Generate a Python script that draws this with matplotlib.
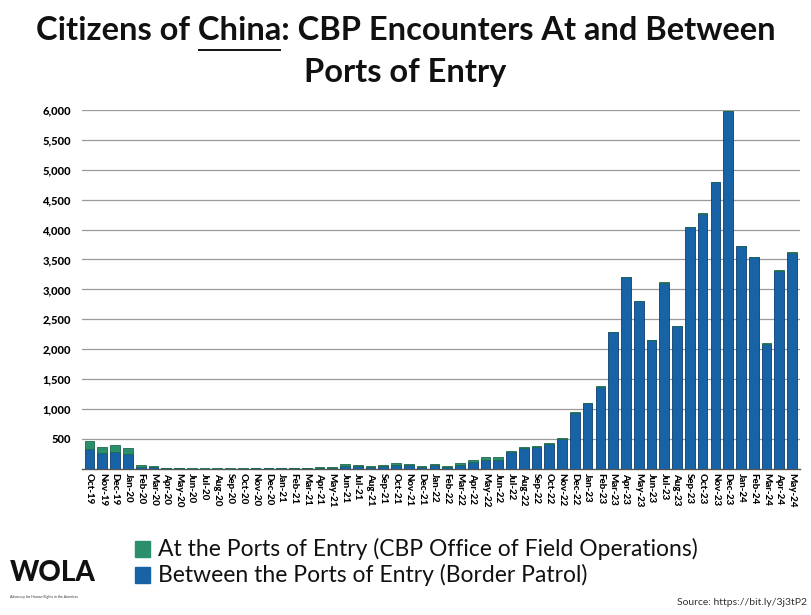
import matplotlib
matplotlib.use("Agg")
from matplotlib import pyplot as plt
import numpy as np

plt.rcParams['font.family'] = ['Lato', 'DejaVu Sans']

months = ["Oct-19","Nov-19","Dec-19","Jan-20","Feb-20","Mar-20","Apr-20","May-20","Jun-20","Jul-20","Aug-20","Sep-20",
          "Oct-20","Nov-20","Dec-20","Jan-21","Feb-21","Mar-21","Apr-21","May-21","Jun-21","Jul-21","Aug-21","Sep-21",
          "Oct-21","Nov-21","Dec-21","Jan-22","Feb-22","Mar-22","Apr-22","May-22","Jun-22","Jul-22","Aug-22","Sep-22",
          "Oct-22","Nov-22","Dec-22","Jan-23","Feb-23","Mar-23","Apr-23","May-23","Jun-23","Jul-23","Aug-23","Sep-23",
          "Oct-23","Nov-23","Dec-23","Jan-24","Feb-24","Mar-24","Apr-24","May-24"]

# at the ports of entry (OFO)
ofo = [140,110,120,100,30,25,5,8,3,2,2,3,
       3,5,6,8,6,6,10,15,25,20,15,20,
       30,25,20,25,15,30,40,60,50,30,20,15,
       15,10,10,10,10,10,10,10,10,10,10,10,
       10,10,10,10,10,10,10,10]

# between the ports of entry (Border Patrol)
usbp = [330,260,280,250,25,25,5,7,2,1,1,2,
        2,3,4,7,4,4,10,15,45,45,25,40,
        60,55,30,55,35,65,110,140,150,270,347,368,
        407,500,930,1090,1370,2280,3200,2800,2150,3110,2380,4040,
        4260,4790,5980,3720,3535,2085,3310,3610]

green = "#2a8f6a"
blue = "#1763a6"

fig = plt.figure(figsize=(8.11, 6.15), dpi=100)
ax = fig.add_axes([0.101, 0.238, 0.885, 0.583])

x = np.arange(len(months))
ax.bar(x, usbp, width=0.76, color=blue, edgecolor="#0d3f6e", linewidth=0.6, zorder=3)
ax.bar(x, ofo, bottom=usbp, width=0.76, color=green, edgecolor="#1d6a4c", linewidth=0.6, zorder=3)

ax.set_ylim(0, 6000)
ax.set_xlim(-0.6, len(months) - 0.4)
ax.set_yticks(np.arange(500, 6001, 500))
ax.set_yticklabels(["{:,}".format(v) for v in range(500, 6001, 500)], fontsize=8, fontweight="black")
ax.set_xticks(x)
ax.set_xticklabels(months, rotation=270, fontsize=7, fontweight="black", va="top", ha="center")
ax.tick_params(axis="both", length=0, pad=3)
ax.tick_params(axis="y", pad=8)
ax.grid(axis="y", color="#9a9a9a", linewidth=0.9, zorder=0)
for s in ["top", "right", "left"]:
    ax.spines[s].set_visible(False)
ax.spines["bottom"].set_color("#555555")
ax.spines["bottom"].set_linewidth(1.0)

# title, with "China" underlined
line1_pre = "Citizens of "
line1_word = "China"
line1_post = ": CBP Encounters At and Between"
tsize = 23.5
full = line1_pre + line1_word + line1_post
t = fig.text(0.5, 0.951, full, ha="center", va="center", fontsize=tsize, fontweight="bold", color="#111111")
fig.text(0.5, 0.882, "Ports of Entry", ha="center", va="center", fontsize=tsize, fontweight="bold", color="#111111")
r = fig.canvas.get_renderer()
bb_full = t.get_window_extent(r)
tmp = fig.text(0, 0, line1_pre, fontsize=tsize, fontweight="bold")
w_pre = tmp.get_window_extent(r).width
tmp.set_text(line1_pre + line1_word)
w_word = tmp.get_window_extent(r).width
tmp.remove()
x0 = (bb_full.x0 + w_pre + 1) / fig.bbox.width
x1 = (bb_full.x0 + w_word - 1) / fig.bbox.width
fig.add_artist(plt.Line2D([x0, x1], [0.919, 0.919], color="#111111", linewidth=1.4))

# legend
fig.patches.append(plt.Rectangle((0.167, 0.094), 0.018, 0.026, transform=fig.transFigure, color=green))
fig.patches.append(plt.Rectangle((0.167, 0.052), 0.018, 0.026, transform=fig.transFigure, color=blue))
fig.text(0.195, 0.107, "At the Ports of Entry (CBP Office of Field Operations)", fontsize=16.5, va="center", color="#111111")
fig.text(0.195, 0.065, "Between the Ports of Entry (Border Patrol)", fontsize=16.5, va="center", color="#111111")

# logo and source
fig.text(0.012, 0.047, "WOLA", fontsize=20, fontweight="black", va="bottom", ha="left", color="#111111")
fig.text(0.012, 0.026, "Advocacy for Human Rights in the Americas", fontsize=2.5, va="bottom", ha="left", color="#333333")
fig.text(0.835, 0.020, "Source: https://bit.ly/3j3tP2", fontsize=7.5, va="center", ha="left", color="#333333")

fig.savefig("out.png", dpi=100)
